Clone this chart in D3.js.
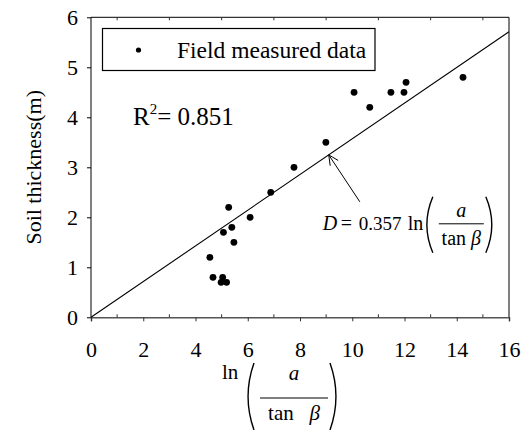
<!DOCTYPE html>
<html>
<head>
<meta charset="utf-8">
<script src="https://cdn.jsdelivr.net/npm/d3@7"></script>
<style>
  body { margin: 0; background: #fff; }
</style>
</head>
<body>
<svg width="530" height="430"></svg>
<script>
// field measured points: ln(a/tanB) vs soil thickness
const lnA   = [4.55, 4.67, 4.98, 5.04, 5.19, 5.07, 5.27, 5.39, 5.47, 6.09, 6.88,
               7.77, 8.99, 10.07, 10.67, 11.48, 11.98, 12.06, 14.24];
const depth = [1.2, 0.8, 0.7, 0.8, 0.7, 1.7, 2.2, 1.8, 1.5, 2.0, 2.5,
               3.0, 3.5, 4.5, 4.2, 4.5, 4.5, 4.7, 4.8];
const slope = 0.357;
const r2    = "0.851";
const xTicks = [0, 2, 4, 6, 8, 10, 12, 14, 16];
const xMinor = [1, 3, 5, 7, 9, 11, 13, 15];
const yTicks = [0, 1, 2, 3, 4, 5, 6];
// arrow annotation, data units: tip on the fitted line, tail near the equation
const arrowTip  = 9.1;
const arrowTail = [10.29, 2.31];

const FONT = '"Liberation Serif", "Times New Roman", serif';

const svg = d3.select("svg");
const m = {left: 91, right: 21, top: 17.3, bottom: 112.7};
const W = 530 - m.left - m.right, H = 430 - m.top - m.bottom;

const x = d3.scaleLinear().domain([0, 16]).range([m.left, m.left + W]);
const y = d3.scaleLinear().domain([0, 6]).range([m.top + H, m.top]);

const g = svg.append("g");

// frame
g.append("line").attr("x1", x(0)).attr("x2", x(0)).attr("y1", y(0)).attr("y2", y(6)).attr("stroke", "#000");
g.append("line").attr("x1", x(0)).attr("x2", x(16)).attr("y1", y(6)).attr("y2", y(6)).attr("stroke", "#000");
g.append("line").attr("x1", x(16)).attr("x2", x(16)).attr("y1", y(0)).attr("y2", y(6)).attr("stroke", "#000");

// bottom axis: major ticks outside, minor ticks inside
const xAxis = d3.axisBottom(x).tickValues(xTicks).tickSize(4).tickPadding(20).tickFormat(d3.format("d"));
const xa = g.append("g").attr("transform", `translate(0,${y(0)})`).call(xAxis);
xa.select(".domain").attr("stroke", "#555").attr("stroke-width", 1.5);
xa.selectAll(".tick line").attr("stroke", "#333");
xa.selectAll(".tick text").style("font-size", "22px").attr("dy", "0.71em");
g.append("g").selectAll("line").data(xMinor).join("line")
  .attr("x1", d => x(d)).attr("x2", d => x(d))
  .attr("y1", y(0)).attr("y2", y(0) - 3).attr("stroke", "#333");
// top: only minor ticks, pointing in
g.append("g").selectAll("line").data(xMinor).join("line")
  .attr("x1", d => x(d)).attr("x2", d => x(d))
  .attr("y1", y(6)).attr("y2", y(6) + 3).attr("stroke", "#333");

// left axis
const yAxis = d3.axisLeft(y).tickValues(yTicks).tickSize(4).tickPadding(9).tickFormat(d3.format("d"));
const ya = g.append("g").attr("transform", `translate(${x(0)},0)`).call(yAxis);
ya.select(".domain").remove();
ya.selectAll(".tick text").style("font-size", "22px");

// axis title
svg.append("text")
  .attr("transform", `translate(33,${(y(0) + y(6)) / 2}) rotate(-90)`)
  .attr("text-anchor", "middle").attr("dy", "0.35em")
  .style("font-size", "22px").text("Soil thickness(m)");

function paren(sel, px, top, bot, dir) {
  const w = 7;
  const mid = (top + bot) / 2;
  const o = dir < 0 ? px + w : px;
  const c = dir < 0 ? px - w * 0.7 : px + w * 1.7;
  sel.append("path")
    .attr("d", `M${o},${top} Q${c},${mid} ${o},${bot}`)
    .attr("fill", "none").attr("stroke", "#000").attr("stroke-width", 1.4);
}

// ln( a / tan beta ), offsets measured from the start of "ln" and its baseline
function lnFrac(sel, x0, base, L) {
  sel.append("text").attr("x", x0).attr("y", base).style("font-size", L.fs + "px").text("ln");
  paren(sel, x0 + L.pl, base + L.pTop, base + L.pBot, -1);
  sel.append("line").attr("x1", x0 + L.b0).attr("x2", x0 + L.b1)
    .attr("y1", base + L.bar).attr("y2", base + L.bar)
    .attr("stroke", "#000").attr("stroke-width", 1);
  const cx = x0 + (L.b0 + L.b1) / 2;
  sel.append("text").attr("x", cx).attr("y", base + L.num)
    .attr("text-anchor", "middle").style("font-size", L.fs + "px").style("font-style", "italic").text("a");
  const t = sel.append("text").attr("x", cx).attr("y", base + L.den)
    .attr("text-anchor", "middle").style("font-size", L.fs + "px");
  t.append("tspan").text("tan" + L.sp);
  t.append("tspan").style("font-style", "italic").text("\u03b2");
  paren(sel, x0 + L.pr, base + L.pTop, base + L.pBot, 1);
}

const xl = svg.append("g");
lnFrac(xl, x(8) - 78, 379, {fs: 21, pl: 25, b0: 38, b1: 106, pr: 108,
  num: 1, bar: 19, den: 41, pTop: -16, pBot: 51, sp: "\u00a0\u00a0\u00a0"});

// fitted line D = 0.357 ln(a/tanB)
g.append("line")
  .attr("x1", x(0)).attr("y1", y(0))
  .attr("x2", x(16)).attr("y2", y(slope * 16))
  .attr("stroke", "#000").attr("stroke-width", 1.1);

// points
g.append("g").selectAll("circle").data(lnA).join("circle")
  .attr("cx", d => x(d)).attr("cy", (d, i) => y(depth[i]))
  .attr("r", 3.4).attr("fill", "#000");

// legend
const lg = svg.append("g");
lg.append("rect").attr("x", 102.5).attr("y", 28.5).attr("width", 272.5).attr("height", 42)
  .attr("fill", "#fff").attr("stroke", "#000").attr("stroke-width", 1.2);
lg.append("circle").attr("cx", 138.5).attr("cy", 50).attr("r", 2.6).attr("fill", "#000");
lg.append("text").attr("x", 177).attr("y", 58).style("font-size", "23.5px").text("Field measured data");

// R^2
const rt = svg.append("text").attr("x", 133).attr("y", 125).style("font-size", "25px");
rt.append("tspan").text("R");
rt.append("tspan").attr("dy", -11).style("font-size", "15px").text("2");
rt.append("tspan").attr("dy", 11).text("= " + r2);

// arrow
const ax1 = x(arrowTail[0]), ay1 = y(arrowTail[1]);
const ax2 = x(arrowTip), ay2 = y(slope * arrowTip);
g.append("line").attr("x1", ax1).attr("y1", ay1).attr("x2", ax2).attr("y2", ay2).attr("stroke", "#000");
const ang = Math.atan2(ay2 - ay1, ax2 - ax1);
[-0.45, 0.45].forEach(a => {
  g.append("line").attr("x1", ax2).attr("y1", ay2)
    .attr("x2", ax2 - 11 * Math.cos(ang + a)).attr("y2", ay2 - 11 * Math.sin(ang + a))
    .attr("stroke", "#000");
});

// equation
const eq = svg.append("g");
const ex = ax1 - 37, eb = ay1 + 28;
const et = eq.append("text").attr("x", ex).attr("y", eb).style("font-size", "20px");
et.append("tspan").style("font-style", "italic").text("D");
et.append("tspan").attr("x", ex + 18).text("=");
et.append("tspan").attr("x", ex + 36).style("font-size", "19px").text("0.357");
lnFrac(eq, ex + 85, eb, {fs: 20, pl: 18, b0: 31, b1: 76, pr: 78,
  num: -13, bar: -6, den: 15, pTop: -33, pBot: 23, sp: "\u00a0"});

// serif everywhere (axes set their own family attribute)
svg.selectAll("text").style("font-family", FONT).attr("fill", "#000");
</script>
</body>
</html>
